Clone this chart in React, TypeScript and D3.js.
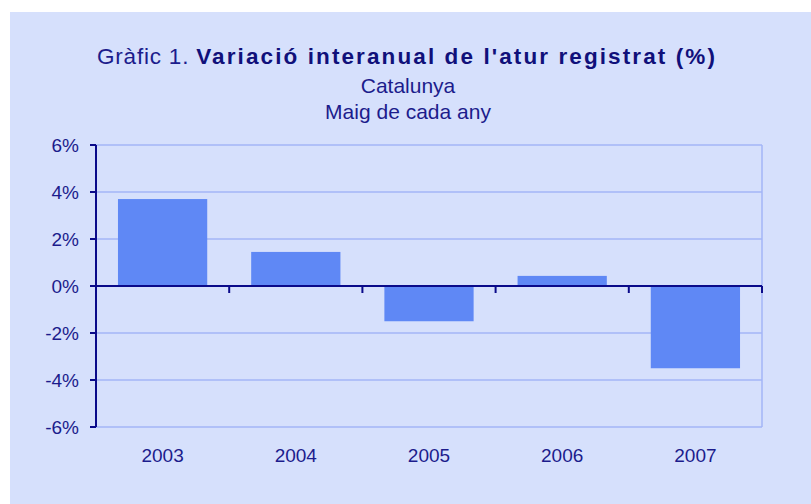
import React from "react";
import * as d3 from "d3";

// values
const years = ["2003", "2004", "2005", "2006", "2007"];
const variation = [3.7, 1.45, -1.5, 0.43, -3.5];
const yTicks = [-6, -4, -2, 0, 2, 4, 6];

const W = 811, H = 504;
const margin = { top: 145, right: 49, bottom: 77, left: 96 };
const textColor = "#1c1c8c";
const font = "'Liberation Sans', Arial, sans-serif";

const App: React.FC = () => {
  const x = d3.scaleBand<string>().domain(years).range([margin.left, W - margin.right]).paddingInner(0.33).paddingOuter(0.165);
  const xEdges = d3.scaleLinear().domain([0, years.length]).range([margin.left, W - margin.right]);
  const y = d3.scaleLinear().domain([-6, 6]).range([H - margin.bottom, margin.top]);

  return (
    <svg width={W} height={H} style={{ position: "absolute", left: 0, top: 0 }} fontFamily={font}>
      <rect x={10} y={12} width={W - 10} height={H - 12} fill="#d6e0fc" />
      <text x={407} y={64} textAnchor="middle" fontSize={22.5} fill={textColor}>
        <tspan letterSpacing={0.8}>Gràfic 1. </tspan>
        <tspan fontWeight="bold" letterSpacing={2.1} fill="#10107a">Variació interanual de l'atur registrat (%)</tspan>
      </text>
      <text x={408} y={93} textAnchor="middle" fontSize={21} fill={textColor}>Catalunya</text>
      <text x={408} y={119} textAnchor="middle" fontSize={21} fill={textColor}>Maig de cada any</text>

      {/* grid */}
      {yTicks.map(t => (
        <line key={t} x1={margin.left} x2={W - margin.right} y1={y(t)} y2={y(t)} stroke="#a3b6f7" strokeWidth={1.5} />
      ))}
      <line x1={W - margin.right} x2={W - margin.right} y1={y(6)} y2={y(-6)} stroke="#a3b6f7" strokeWidth={1.5} />

      {/* bars */}
      {years.map((yr, i) => (
        <rect key={yr} x={x(yr)} width={x.bandwidth()}
          y={y(Math.max(0, variation[i]))} height={Math.abs(y(variation[i]) - y(0))} fill="#5f88f5" />
      ))}

      {/* y axis */}
      <line x1={margin.left} x2={margin.left} y1={y(6)} y2={y(-6)} stroke="#0a0a8a" strokeWidth={2} />
      {yTicks.map(t => (
        <g key={t}>
          <line x1={margin.left - 6} x2={margin.left} y1={y(t)} y2={y(t)} stroke="#0a0a8a" strokeWidth={2} />
          <text x={79} y={y(t) + 7} textAnchor="end" fontSize={19} fill={textColor}>{t}%</text>
        </g>
      ))}

      {/* x axis at zero */}
      <line x1={margin.left} x2={W - margin.right} y1={y(0)} y2={y(0)} stroke="#0a0a8a" strokeWidth={2} />
      {d3.range(years.length + 1).map(i => (
        <line key={i} x1={xEdges(i)} x2={xEdges(i)} y1={y(0)} y2={y(0) + 7} stroke="#0a0a8a" strokeWidth={2} />
      ))}
      {years.map(yr => (
        <text key={yr} x={(x(yr) ?? 0) + x.bandwidth() / 2} y={462} textAnchor="middle" fontSize={19} fill={textColor}>{yr}</text>
      ))}
    </svg>
  );
};

export default App;
